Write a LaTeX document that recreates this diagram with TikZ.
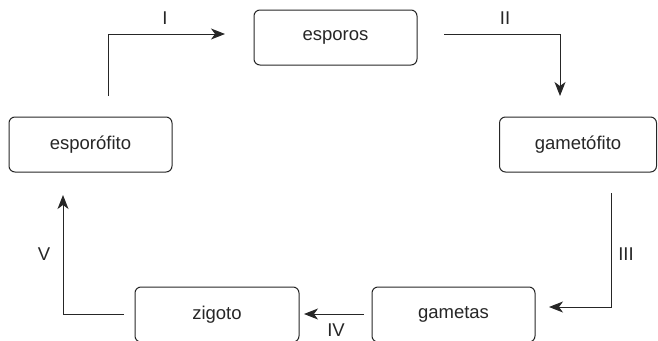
\documentclass[tikz,border=0pt]{standalone}
\usepackage{fontspec}
\setmainfont{Liberation Sans}
\usetikzlibrary{arrows.meta}
\begin{document}
\begin{tikzpicture}[x=1pt,y=-1pt,
  stagebox/.style={draw=black!85, line width=1pt, rounded corners=6pt, minimum height=55pt, inner sep=0pt, font=\fontsize{18.5}{21}\selectfont, text=black!85},
  flow/.style={draw=black!85, line width=1pt, -{Stealth[length=14pt,width=11pt,inset=4pt]}},
  lbl/.style={font=\fontsize{18.5}{21}\selectfont, text=black!85, inner sep=0pt}]
\useasboundingbox (0,0) rectangle (658,340);
\node[stagebox, minimum width=163pt] (sporo) at (90.5,144.5) {esporófito};
\node[stagebox, minimum width=163pt] (esp) at (335.5,37.5) {esporos};
\node[stagebox, minimum width=157pt] (game) at (578,144.5) {gametófito};
\node[stagebox, minimum width=164pt] (zig) at (217,314.5) {zigoto};
\node[stagebox, minimum width=163pt] (gam) at (453.5,314.5) {gametas};
% free ends
\coordinate (a1) at (108,96);
\coordinate (a2) at (225,34);
\coordinate (b1) at (444,34);
\coordinate (b2) at (560,96);
\coordinate (c1) at (611,193);
\coordinate (c2) at (549,307);
\coordinate (d1) at (364,314);
\coordinate (d2) at (304,314);
\coordinate (e1) at (124,314);
\coordinate (e2) at (63,195);
\draw[flow] (a1) |- (a2);
\draw[flow] (b1) -| (b2);
\draw[flow] (c1) |- (c2);
\draw[flow] (d1) -- (d2);
\draw[flow] (e1) -| (e2);
\node[lbl] (l1) at (165,18) {I};
\node[lbl] (l2) at (505,18) {II};
\node[lbl] (l3) at (626,254) {III};
\node[lbl] (l4) at (336,330) {IV};
\node[lbl] (l5) at (44,254) {V};
\end{tikzpicture}
\end{document}
